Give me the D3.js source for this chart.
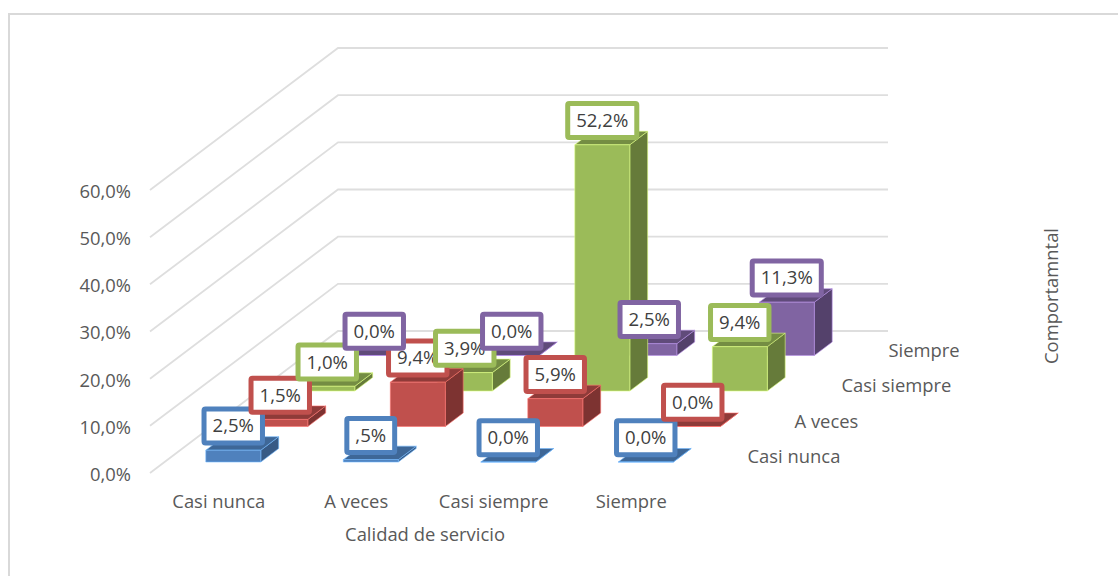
<!DOCTYPE html>
<html>
<head>
<meta charset="utf-8">
<script src="https://cdn.jsdelivr.net/npm/d3@7"></script>
<style>
  html, body { margin: 0; padding: 0; background: #fff; }
  svg { display: block; }
  text { font-family: "Open Sans", "Noto Sans", sans-serif; font-size: 18.4px; fill: #595959; }
  .dato { fill: #404040; font-size: 18.6px; }
</style>
</head>
<body>
<div id="chart"></div>
<script>
// Datos
const categorias = ['Casi nunca', 'A veces', 'Casi siempre', 'Siempre'];
const filas = ['Casi nunca', 'A veces', 'Casi siempre', 'Siempre'];
const serieCasiNunca = [2.5, 0.5, 0, 0];
const serieAVeces = [1.5, 9.4, 5.9, 0];
const serieCasiSiempre = [1.0, 3.9, 52.2, 9.4];
const serieSiempre = [0, 0, 2.5, 11.3];
const etiquetasCasiNunca = ['2,5%', ',5%', '0,0%', '0,0%'];
const etiquetasAVeces = ['1,5%', '9,4%', '5,9%', '0,0%'];
const etiquetasCasiSiempre = ['1,0%', '3,9%', '52,2%', '9,4%'];
const etiquetasSiempre = ['0,0%', '0,0%', '2,5%', '11,3%'];
const ticksValor = [0, 10, 20, 30, 40, 50, 60];

const series = [serieCasiNunca, serieAVeces, serieCasiSiempre, serieSiempre];
const etiquetas = [etiquetasCasiNunca, etiquetasAVeces, etiquetasCasiSiempre, etiquetasSiempre];

// Colores por fila: frente, tapa, lateral
const colores = [
  { frente: '#4f81bd', tapa: '#3e6797', lateral: '#375a85' },
  { frente: '#c0504d', tapa: '#8f3b39', lateral: '#7d3331' },
  { frente: '#9bbb59', tapa: '#748d43', lateral: '#667b3a' },
  { frente: '#8064a2', tapa: '#604b7a', lateral: '#54416b' }
];

const width = 1118;
const height = 576;

const svg = d3.select('#chart').append('svg')
  .attr('width', width)
  .attr('height', height);

// Marco del grafico
svg.append('path')
  .attr('d', 'M9,576V14H1118')
  .attr('fill', 'none')
  .attr('stroke', '#d9d9d9')
  .attr('stroke-width', 2);

// Escalas de la proyeccion oblicua
const xCol = d3.scaleLinear().domain([0, 4]).range([150, 700]);
const xFila = d3.scaleLinear().domain([0, 4]).range([0, 188]);
const yFila = d3.scaleLinear().domain([0, 4]).range([0, -142]);
const yValor = d3.scaleLinear().domain([0, 60]).range([473, 190]);

function proy(col, fila, valor) {
  return [xCol(col) + xFila(fila), yValor(valor) + yFila(fila)];
}

const linea = d3.line();

// Rejilla: pared lateral y pared del fondo
svg.append('g').selectAll('path')
  .data(ticksValor)
  .enter()
  .append('path')
  .attr('d', v => linea([proy(0, 0, v), proy(0, 4, v), proy(4, 4, v)]))
  .attr('fill', 'none')
  .attr('stroke', '#dedede')
  .attr('stroke-width', 1.8);

// Eje de valores
const ejeY = d3.axisLeft(yValor)
  .tickValues(ticksValor)
  .tickSize(0)
  .tickPadding(19)
  .tickFormat(v => d3.format('.1f')(v).replace('.', ',') + '%');

svg.append('g')
  .attr('transform', 'translate(150,1.5)')
  .call(ejeY)
  .call(g => g.select('.domain').remove())
  .call(g => g.selectAll('text').attr('font-size', null).attr('font-family', null));

// Barras, de atras hacia adelante
const margenCol = 0.3, margenFila = 0.31;
const gBarras = svg.append('g');

d3.range(3, -1, -1).forEach(f => {
  series[f].forEach((valor, c) => {
    const x0 = c + margenCol, x1 = c + 1 - margenCol;
    const z0 = f + margenFila, z1 = f + 1 - margenFila;
    const barra = gBarras.append('g')
      .attr('stroke', d3.color(colores[f].frente).brighter(1).formatHex())
      .attr('stroke-width', 0.6)
      .attr('stroke-linejoin', 'round');
    barra.append('path')
      .attr('d', linea([proy(x1, z0, 0), proy(x1, z1, 0), proy(x1, z1, valor), proy(x1, z0, valor)]) + 'Z')
      .attr('fill', colores[f].lateral);
    barra.append('path')
      .attr('d', linea([proy(x0, z0, valor), proy(x1, z0, valor), proy(x1, z1, valor), proy(x0, z1, valor)]) + 'Z')
      .attr('fill', colores[f].tapa);
    barra.append('path')
      .attr('d', linea([proy(x0, z0, 0), proy(x1, z0, 0), proy(x1, z0, valor), proy(x0, z0, valor)]) + 'Z')
      .attr('fill', colores[f].frente);
  });
});

// Etiquetas de datos: la serie mas lejana queda encima
const gEtiquetas = svg.append('g');

series.forEach((serie, f) => {
  serie.forEach((valor, c) => {
    const p = proy(c + 0.5, f + 0.5, valor);
    const g = gEtiquetas.append('g')
      .attr('transform', `translate(${p[0] - 9},${p[1] - 17.5})`);
    const rect = g.append('rect')
      .attr('y', -17)
      .attr('height', 34)
      .attr('rx', 1.5)
      .attr('fill', '#fff')
      .attr('stroke', colores[f].frente)
      .attr('stroke-width', 5);
    const texto = g.append('text')
      .attr('class', 'dato')
      .attr('text-anchor', 'middle')
      .attr('dy', '0.35em')
      .text(etiquetas[f][c]);
    const w = texto.node().getComputedTextLength() + 17;
    rect.attr('x', -w / 2).attr('width', w);
  });
});

// Categorias del eje horizontal
svg.append('g').selectAll('text')
  .data(categorias)
  .enter()
  .append('text')
  .attr('x', (d, i) => xCol(i + 0.5))
  .attr('y', 508)
  .attr('text-anchor', 'middle')
  .text(d => d);

// Categorias del eje de profundidad
svg.append('g').selectAll('text')
  .data(filas)
  .enter()
  .append('text')
  .attr('x', (d, i) => xCol(4) + xFila(i + 0.5) + 24)
  .attr('y', (d, i) => yValor(0) + yFila(i + 0.5) + 8)
  .attr('text-anchor', 'start')
  .text(d => d);

// Titulos
svg.append('text')
  .attr('x', 425)
  .attr('y', 541)
  .attr('text-anchor', 'middle')
  .text('Calidad de servicio');

svg.append('text')
  .attr('transform', 'translate(1058,296) rotate(-90)')
  .attr('text-anchor', 'middle')
  .text('Comportamntal');
</script>
</body>
</html>
